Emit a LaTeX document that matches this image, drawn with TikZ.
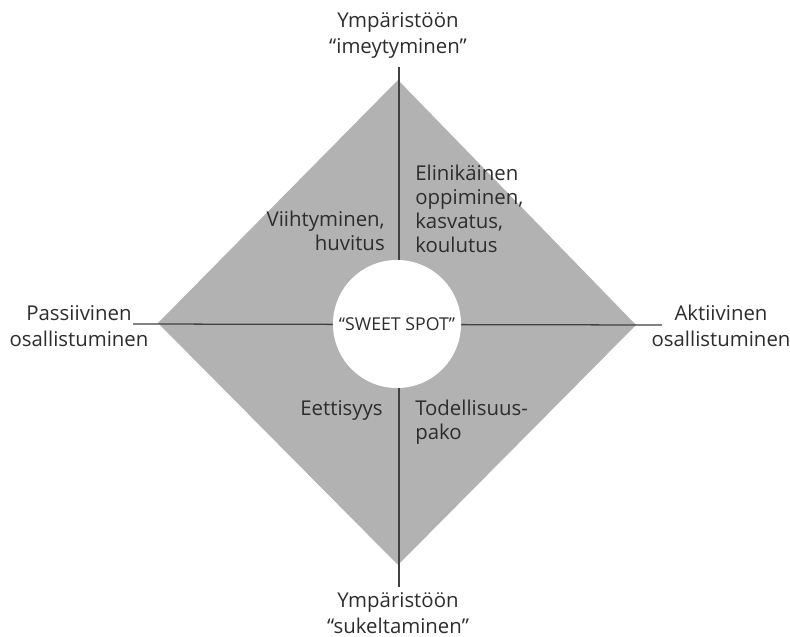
\documentclass[tikz,border=0pt]{standalone}
\usepackage{fontspec}
\setmainfont{Open Sans}
\usetikzlibrary{
    positioning
}
\definecolor{quadgray}{RGB}{178,178,178}
\definecolor{axisgray}{RGB}{65,65,65}
\definecolor{labelgray}{RGB}{45,45,45}

\begin{document}
\begin{tikzpicture}[
    x=0.025cm,
    y=-0.025cm,
    axislabel/.style={
        align=center,
        text=labelgray,
        inner sep=0pt,
        font=\fontsize{14.5}{18.5}\selectfont
    },
    quadlabel/.style={
        text=labelgray,
        inner sep=0pt,
        font=\fontsize{14.5}{17}\selectfont
    },
    axisline/.style={
        draw=axisgray,
        line width=0.9pt
    },
    sweetspot/.style={
        circle,
        fill=white,
        minimum size=3.2cm,
        inner sep=0pt,
        text=labelgray,
        font=\fontsize{12.6}{14}\selectfont
    }
]
\useasboundingbox (0,0) rectangle (790,637);

% diamond corners
\coordinate (dtop) at (398,80);
\coordinate (dright) at (636,325);
\coordinate (dbottom) at (398,565);
\coordinate (dleft) at (158,323);

\fill[quadgray] (dtop) -- (dright) -- (dbottom) -- (dleft) -- cycle;

% axis ends
\coordinate (vtop) at (399,67);
\coordinate (vbottom) at (399,587);
\coordinate (hleft) at (133,324);
\coordinate (hright) at (662,325);

\draw[axisline] (vtop) -- (vbottom);
\draw[axisline] (hleft) -- (hright);

% axis labels
\node[axislabel] (imeytyminen) at (398,35) {
    Ympäristöön\\
    “imeytyminen”
};
\node[axislabel] (sukeltaminen) at (398,613) {
    Ympäristöön\\
    “sukeltaminen”
};
\node[axislabel] (passiivinen) at (79,326) {
    Passiivinen\\
    osallistuminen
};
\node[axislabel] (aktiivinen) at (721,326) {
    Aktiivinen\\
    osallistuminen
};

% centre
\node[sweetspot] (spot) at (397,324) {“SWEET SPOT”};

% quadrants
\node[quadlabel, align=right, anchor=east] (viihde) at (385,231) {
    Viihtyminen,\\
    huvitus
};
\node[quadlabel, align=left, anchor=west] (oppiminen) at (415,209) {
    Elinikäinen\\
    oppiminen,\\
    kasvatus,\\
    koulutus
};
\node[quadlabel, anchor=east] (etiikka) at (383,410) {Eettisyys};
\node[quadlabel, align=left, anchor=west] (pako) at (415,422) {
    Todellisuus-\\
    pako
};

\end{tikzpicture}
\end{document}
